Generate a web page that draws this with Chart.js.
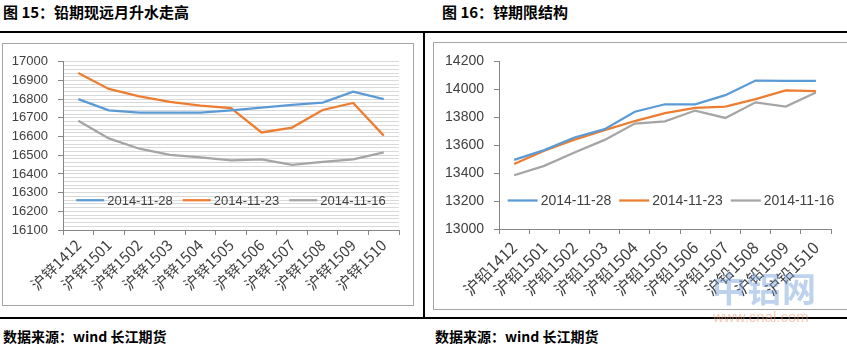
<!DOCTYPE html>
<html lang="zh-CN">
<head>
<meta charset="UTF-8">
<title>期限结构</title>
<script src="https://cdn.jsdelivr.net/npm/chart.js"></script>
<style>
  body { margin: 0; width: 847px; height: 347px; background: #fff; position: relative; overflow: hidden;
         font-family: "Noto Sans CJK SC", sans-serif; color: #000; }
  .title { position: absolute; top: 3px; font-weight: bold; font-size: 15px; line-height: 18px; white-space: nowrap; }
  .foot { position: absolute; top: 327px; font-weight: bold; font-size: 14px; line-height: 18px; white-space: nowrap; }
  .rule { position: absolute; background: #000; }
  .box { position: absolute; border: 1px solid #a6a6a6; background: #fff; }
  .box canvas { display: block; }
  .wm1 { position: absolute; left: 712px; top: 268px; font-size: 34px; font-weight: bold; letter-spacing: 1px;
         color: rgba(110, 155, 215, 0.45); line-height: 40px; }
  .wm2 { position: absolute; left: 713px; top: 309px; font-family: "Liberation Sans", sans-serif; font-size: 15px;
         color: rgba(235, 150, 110, 0.5); line-height: 16px; }
</style>
</head>
<body>
  <div class="title" style="left:3px">图 15：铅期现远月升水走高</div>
  <div class="title" style="left:442px">图 16：锌期限结构</div>

  <div class="rule" style="left:0; top:31px; width:847px; height:2px"></div>
  <div class="rule" style="left:0; top:317px; width:847px; height:2px"></div>
  <div class="rule" style="left:423px; top:31px; width:2px; height:287px"></div>

  <div class="box" style="left:2px; top:43px; width:410px; height:261px">
    <canvas id="left" width="410" height="261"></canvas>
  </div>
  <div class="box" style="left:433px; top:42px; width:414px; height:266px">
    <canvas id="right" width="414" height="266"></canvas>
  </div>

  <div class="foot" style="left:3px">数据来源：wind 长江期货</div>
  <div class="foot" style="left:435px">数据来源：wind 长江期货</div>

  <div class="wm1">中铝网</div>
  <div class="wm2">www.cnal.com</div>

<script>
// 沪锌合约 (左图)
const zincContracts = ['沪锌1412', '沪锌1501', '沪锌1502', '沪锌1503', '沪锌1504', '沪锌1505',
                       '沪锌1506', '沪锌1507', '沪锌1508', '沪锌1509', '沪锌1510'];
const zinc1128 = [16800, 16740, 16728, 16728, 16728, 16740, 16755, 16770, 16782, 16840, 16800];
const zinc1123 = [16940, 16855, 16815, 16785, 16765, 16752, 16622, 16648, 16742, 16780, 16605];
const zinc1116 = [16685, 16590, 16535, 16502, 16488, 16472, 16478, 16448, 16465, 16478, 16515];

// 沪铅合约 (右图)
const leadContracts = ['沪铅1412', '沪铅1501', '沪铅1502', '沪铅1503', '沪铅1504', '沪铅1505',
                       '沪铅1506', '沪铅1507', '沪铅1508', '沪铅1509', '沪铅1510'];
const lead1128 = [13495, 13565, 13655, 13715, 13840, 13893, 13893, 13958, 14063, 14060, 14060];
const lead1123 = [13465, 13560, 13640, 13708, 13773, 13830, 13867, 13877, 13930, 13993, 13988];
const lead1116 = [13385, 13452, 13548, 13638, 13755, 13771, 13848, 13795, 13907, 13877, 13977];

const seriesNames = ['2014-11-28', '2014-11-23', '2014-11-16'];
const colors = ['#5b9bd5', '#ed7d31', '#a5a5a5'];

const axisGray = '#868686';
const textGray = '#404040';

// 图例画在绘图区内部
const insideLegend = {
  id: 'insideLegend',
  afterDatasetsDraw(chart, args, opts) {
    const { ctx, chartArea } = chart;
    ctx.save();
    ctx.font = opts.font;
    const items = chart.data.datasets.map(d => ({
      label: d.label, color: d.borderColor, w: ctx.measureText(d.label).width
    }));
    let total = 0;
    items.forEach(it => { total += opts.lineLen + opts.gap + it.w; });
    total += opts.spacing * (items.length - 1);
    let x = (chartArea.left + chartArea.right) / 2 - total / 2 + (opts.shift || 0);
    const y = chartArea.top + (chartArea.bottom - chartArea.top) * opts.pos;
    items.forEach(it => {
      ctx.strokeStyle = it.color;
      ctx.lineWidth = 2.25;
      ctx.beginPath();
      ctx.moveTo(x, y);
      ctx.lineTo(x + opts.lineLen, y);
      ctx.stroke();
      x += opts.lineLen + opts.gap;
      ctx.fillStyle = textGray;
      ctx.textBaseline = 'middle';
      ctx.textAlign = 'left';
      ctx.fillText(it.label, x, y + 1);
      x += it.w + opts.spacing;
    });
    ctx.restore();
  }
};

function makeDatasets(a, b, c) {
  return [a, b, c].map((data, i) => ({
    label: seriesNames[i],
    data: data,
    borderColor: colors[i],
    backgroundColor: colors[i],
    borderWidth: 2.25,
    pointRadius: 0,
    tension: 0,
    fill: false
  }));
}

function buildChart(id, labels, datasets, cfg) {
  new Chart(document.getElementById(id), {
    type: 'line',
    data: { labels, datasets },
    plugins: [insideLegend],
    options: {
      responsive: false,
      animation: false,
      layout: { padding: { top: cfg.top, right: cfg.right, left: 0, bottom: 0 } },
      plugins: {
        legend: { display: false },
        tooltip: { enabled: false },
        insideLegend: cfg.legend
      },
      scales: {
        x: {
          type: 'category',
          offset: true,
          afterFit: s => { s.height = cfg.xHeight; },
          grid: { offset: true, drawOnChartArea: false, color: axisGray, tickLength: 5 },
          border: { color: axisGray },
          ticks: {
            autoSkip: false, minRotation: 45, maxRotation: 45, padding: cfg.xPad,
            color: textGray,
            font: { family: '"Noto Sans CJK SC", "Liberation Sans", sans-serif', size: cfg.xFont }
          }
        },
        y: {
          min: cfg.yMin, max: cfg.yMax,
          afterFit: s => { s.width = cfg.yWidth; },
          grid: cfg.yGrid,
          border: { color: axisGray },
          ticks: {
            stepSize: cfg.step, autoSkip: false, maxTicksLimit: 100, padding: 10,
            color: textGray,
            font: { family: '"Liberation Sans", sans-serif', size: cfg.yFont },
            callback: v => (v % cfg.labelEvery === 0 ? v : '')
          }
        }
      }
    }
  });
}

buildChart('left', zincContracts, makeDatasets(zinc1128, zinc1123, zinc1116), {
  top: 17, right: 14, xHeight: 75, yWidth: 60,
  yMin: 16100, yMax: 17000, step: 20, labelEvery: 100,
  xFont: 15, yFont: 13, xPad: 1,
  yGrid: {
    color: '#d9d9d9', lineWidth: 1, tickLength: 5,
    tickColor: c => (c.tick && c.tick.value % 100 === 0 ? axisGray : 'rgba(0,0,0,0)')
  },
  legend: { font: '13px "Liberation Sans", sans-serif', lineLen: 28, gap: 3, spacing: 10, pos: 0.823 }
});

buildChart('right', leadContracts, makeDatasets(lead1128, lead1123, lead1116), {
  top: 15, right: 17, xHeight: 80, yWidth: 65,
  yMin: 13000, yMax: 14200, step: 200, labelEvery: 200,
  xFont: 16, yFont: 14, xPad: 4,
  yGrid: { drawOnChartArea: false, color: axisGray, tickLength: 5 },
  legend: { font: '14px "Liberation Sans", sans-serif', lineLen: 30, gap: 3, spacing: 8, pos: 0.83, shift: 6 }
});
</script>
</body>
</html>
